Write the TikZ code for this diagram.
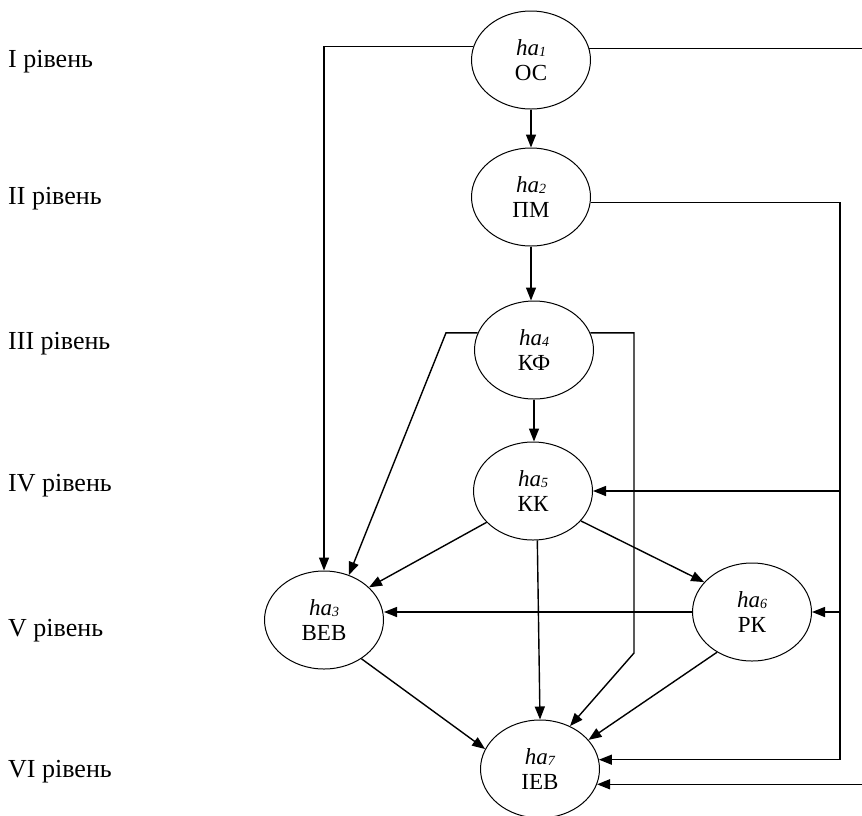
\documentclass[tikz,border=0pt]{standalone}
\usepackage{fontspec}
\setmainfont{Liberation Serif}
\usetikzlibrary{shapes.geometric,arrows.meta,calc}
\newcommand{\hsub}[1]{\textit{ha}\raisebox{-1.5pt}{\fontsize{14}{14}\selectfont\textit{#1}}}
\begin{document}
\begin{tikzpicture}[x=1pt,y=-1pt,
  ell/.style={ellipse, draw, line width=1pt, minimum width=119pt, minimum height=98pt,
    inner sep=0pt, align=center, font=\fontsize{23}{25}\selectfont},
  conn/.style={line width=1.4pt},
  arr/.style={conn, -{Triangle[length=13pt,width=10pt]}},
  lvl/.style={anchor=west, inner sep=0pt, font=\fontsize{26}{28}\selectfont}]
\useasboundingbox[fill=white] (0,0) rectangle (862,815);

% level labels
\node[lvl] (l1) at (8,62)  {I рівень};
\node[lvl] (l2) at (8,199) {II рівень};
\node[lvl] (l3) at (8,344) {III рівень};
\node[lvl] (l4) at (8,486) {IV рівень};
\node[lvl] (l5) at (8,631) {V рівень};
\node[lvl] (l6) at (8,772) {VI рівень};

% nodes
\node[ell] (ha1) at (531,60)  {\hsub{1}\\ОС};
\node[ell] (ha2) at (531,197) {\hsub{2}\\ПМ};
\node[ell] (ha4) at (534,350) {\hsub{4}\\КФ};
\node[ell] (ha5) at (533,491) {\hsub{5}\\КК};
\node[ell] (ha3) at (324,620) {\hsub{3}\\ВЕВ};
\node[ell] (ha6) at (752,612) {\hsub{6}\\РК};
\node[ell] (ha7) at (540,769) {\hsub{7}\\ІЕВ};

% helper coordinates
\coordinate (redge) at (862,0);
\coordinate (xr) at (840,0);
\coordinate (b4l) at (446,333);
\coordinate (b4r) at (634,653);

% connectors
\draw[arr] (ha1.167) -| (ha3.north);
\draw[conn] (ha1.11) -- (ha1.11 -| redge);
\draw[arr] (ha1.south) -- (ha1.south |- ha2.north);
\draw[arr] (ha2.south) -- (ha2.south |- ha4.north);
\draw[arr] (ha2.-5) -- (ha2.-5 -| xr) -- (xr |- ha7.9) -- (ha7.9);
\draw[arr] (xr |- ha5.east) -- (ha5.east);
\draw[arr] (xr |- ha6.east) -- (ha6.east);
\draw[arr] (redge |- ha7.-15) -- (ha7.-15);
\draw[arr] (ha4.163) -- (ha4.163 -| b4l) -- (ha3.61);
\draw[arr] (ha4.17) -- (ha4.17 -| b4r) -- (b4r) -- (ha7.55);
\draw[arr] (ha4.south) -- (ha4.south |- ha5.north);
\draw[arr] (ha5.214) -- (ha3.36);
\draw[arr] (ha5.-85) -- (ha7.north);
\draw[arr] (ha5.-32) -- (ha6.148);
\draw[arr] (ha6.west) -- (ha6.west -| ha3.east);
\draw[arr] (ha3.-46) -- (ha7.160);
\draw[arr] (ha6.229) -- (ha7.31);
\end{tikzpicture}
\end{document}
